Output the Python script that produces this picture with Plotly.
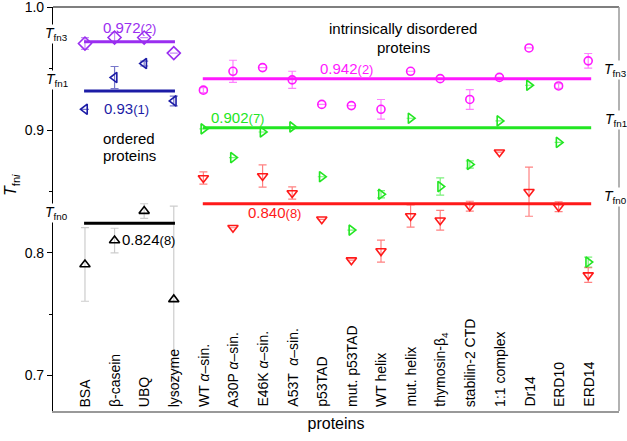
import plotly.graph_objects as go

categories = ["BSA", "β-casein", "UBQ", "lysozyme",
              "WT <i>α</i>–sin.", "A30P <i>α</i>–sin.", "E46K <i>α</i>–sin.", "A53T  <i>α</i>–sin.",
              "p53TAD", "mut. p53TAD", "WT helix", "mut. helix", "thymosin-β<sub>4</sub>",
              "stabilin-2 CTD", "1:1 complex", "Dr14", "ERD10", "ERD14"]

ord_idx = [0, 1, 2, 3]
idp_idx = list(range(4, 18))

# ordered proteins
ord_tfn3 = [0.9706, 0.9755, 0.9755, 0.9628]
ord_tfn3_err = [0.0048, 0.004, 0.0, 0.0]
ord_tfn1 = [0.917, 0.9429, 0.9543, 0.9238]
ord_tfn1_err = [0.0, 0.009, 0.002, 0.004]
ord_tfn0 = [0.7905, 0.810, 0.834, 0.762]
ord_tfn0_err = [0.030, 0.010, 0.006, 0.076]

# intrinsically disordered proteins
idp_tfn3 = [0.9326, 0.948, 0.951, 0.941, 0.921, 0.920, 0.917, 0.948, 0.942, 0.925, 0.943, 0.967, 0.936, 0.9565]
idp_tfn3_err = [0.002, 0.009, 0.0, 0.007, 0.0, 0.0, 0.008, 0.0, 0.0, 0.008, 0.0, 0.0, 0.002, 0.006]
idp_tfn1 = [0.901, 0.8776, 0.8985, 0.9026, 0.862, 0.8185, 0.8477, 0.9097, 0.854, 0.872, 0.9075, 0.9366, 0.890, 0.7924]
idp_tfn1_err = [0.0, 0.0, 0.0, 0.0, 0.0, 0.0, 0.003, 0.0, 0.007, 0.003, 0.0, 0.0, 0.0, 0.004]
idp_tfn0 = [0.861, 0.8204, 0.8626, 0.8488, 0.8273, 0.794, 0.8014, 0.830, 0.8265, 0.838, 0.882, 0.8498, 0.8376, 0.7818]
idp_tfn0_err = [0.005, 0.0, 0.009, 0.005, 0.0, 0.0, 0.009, 0.009, 0.008, 0.004, 0.0, 0.02, 0.004, 0.006]

# group means
ord_means = [0.972, 0.932, 0.824]
idp_means = [0.942, 0.902, 0.840]
ord_span = [-0.03, 3.04]
idp_span = [3.98, 17.1]

fig = go.Figure()

def add_series(x, y, err, symbol, color, errcolor, size=9):
    fig.add_trace(go.Scatter(
        x=x, y=y, mode="markers",
        marker=dict(symbol=symbol, size=size, color=color, line=dict(width=1.6, color=color)),
        error_y=dict(type="data", array=err, visible=True, color=errcolor, thickness=1.2, width=4),
        showlegend=False, hoverinfo="skip"))

def add_line(span, val, color):
    fig.add_trace(go.Scatter(x=span, y=[val, val], mode="lines",
                             line=dict(color=color, width=3), showlegend=False, hoverinfo="skip"))

purple = "#9a2ef0"
blue = "#1c1ca6"
black = "#000000"
magenta = "#ff19ff"
green = "#22e622"
red = "#ff1a1a"

add_line(ord_span, ord_means[0], purple)
add_line(ord_span, ord_means[1], blue)
add_line(ord_span, ord_means[2], black)
add_line(idp_span, idp_means[0], magenta)
add_line(idp_span, idp_means[1], green)
add_line(idp_span, idp_means[2], red)

add_series(ord_idx, ord_tfn3, ord_tfn3_err, "diamond-open", purple, "rgba(154,46,240,0.55)", 10)
add_series(ord_idx, ord_tfn1, ord_tfn1_err, "triangle-left-open", blue, "rgba(28,28,166,0.6)")
add_series(ord_idx, ord_tfn0, ord_tfn0_err, "triangle-up-open", black, "rgba(0,0,0,0.2)")
add_series(idp_idx, idp_tfn3, idp_tfn3_err, "circle-open", magenta, "rgba(255,25,255,0.55)", 8)
add_series(idp_idx, idp_tfn1, idp_tfn1_err, "triangle-right-open", green, "rgba(34,230,34,0.6)")
add_series(idp_idx, idp_tfn0, idp_tfn0_err, "triangle-down-open", red, "rgba(255,26,26,0.55)")

font = "Liberation Sans, Arial, sans-serif"
ann = []
def txt(x, y, s, color="black", size=15, xanchor="center", bg=None, xref="x", yref="y"):
    d = dict(x=x, y=y, xref=xref, yref=yref, text=s, showarrow=False,
             font=dict(family=font, size=size, color=color), xanchor=xanchor, yanchor="middle")
    if bg:
        d["bgcolor"] = bg
        d["borderpad"] = 0
    ann.append(d)

sm = "<span style='font-size:13px'>%s</span>"
txt(1.5, 0.9838, "0.972" + sm % "(2)", purple)
txt(1.4, 0.9175, "0.93" + sm % "(1)", blue)
txt(1.5, 0.8935, "ordered", "black")
txt(1.5, 0.879, "proteins", "black")
txt(1.2, 0.8105, "0.824" + sm % "(8)", "black", xanchor="left")
txt(10.75, 0.9826, "intrinsically disordered", "black")
txt(10.75, 0.967, "proteins", "black")
txt(8.85, 0.9506, "0.942" + sm % "(2)", magenta)
txt(5.15, 0.9105, "0.902" + sm % "(7)", green)
txt(6.4, 0.8325, "0.840" + sm % "(8)", red)

T = "<i>T</i><sub>fn%s</sub>"
for yv, s in [(0.978, "3"), (0.9405, "1"), (0.8325, "0")]:
    txt(0.0065, yv, T % s, "black", 14, "center", "white", xref="paper")
for yv, s in [(0.949, "3"), (0.9085, "1"), (0.8455, "0")]:
    txt(0.994, yv, T % s, "black", 14, "center", "white", xref="paper")

# category labels, rotated, inside the plot just above the bottom axis
for i, c in enumerate(categories):
    ann.append(dict(x=i, y=0, xref="x", yref="paper", text=c, showarrow=False, textangle=-90,
                    font=dict(family=font, size=14, color="black"),
                    xanchor="center", yanchor="bottom", yshift=2))

ann.append(dict(x=-0.072, y=0.56, xref="paper", yref="paper", text="<i>T</i><sub>fn<i>i</i></sub>",
                showarrow=False, textangle=-90, font=dict(family=font, size=16, color="black"),
                xanchor="center", yanchor="middle"))

fig.update_layout(
    width=627, height=441,
    margin=dict(l=53, r=8, t=7, b=30, autoexpand=False),
    paper_bgcolor="white", plot_bgcolor="white",
    annotations=ann,
    font=dict(family=font, color="black"),
    xaxis=dict(range=[-1.08, 18.04], showticklabels=False, ticks="", showgrid=False, zeroline=False,
               showline=True, linecolor="#999999", linewidth=1.5, mirror=False, automargin=False,
               title=dict(text="proteins", font=dict(family=font, size=16), standoff=6)),
    yaxis=dict(range=[0.671, 1.0004], tickvals=[0.7, 0.8, 0.9, 1.0], ticktext=["0.7", "0.8", "0.9", "1.0"],
               ticks="outside", ticklen=5, tickwidth=1, tickcolor="black", automargin=False,
               ticklabeloverflow="allow",
               minor=dict(tickvals=[0.75, 0.85, 0.95], ticks="outside", ticklen=3, tickcolor="black"),
               showgrid=False, zeroline=False, showline=True, linecolor="black", linewidth=1.2,
               tickfont=dict(family=font, size=14, color="black")),
)
# top black border and right grey border
fig.add_shape(type="line", xref="paper", yref="paper", x0=0, x1=1, y0=1, y1=1,
              line=dict(color="black", width=1.2))
fig.add_shape(type="line", xref="paper", yref="paper", x0=1, x1=1, y0=0, y1=1,
              line=dict(color="#999999", width=1.5))

fig.write_html("out.html", config={"displayModeBar": False},
               post_script="document.body.style.margin='0';")
